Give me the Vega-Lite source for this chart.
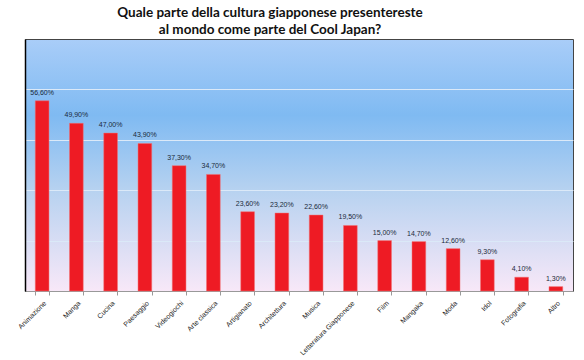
{
  "$schema": "https://vega.github.io/schema/vega-lite/v6.json",
  "autosize": {"type": "none"},
  "width": 548,
  "height": 252,
  "padding": {"left": 25, "top": 39, "right": 11, "bottom": 69},
  "background": "white",
  "title": {
    "text": ["Quale parte della cultura giapponese presentereste", "al mondo come parte del Cool Japan?"],
    "font": "Lato",
    "fontSize": 13.5,
    "fontWeight": "bold",
    "lineHeight": 17,
    "color": "#111111",
    "anchor": "middle",
    "dx": -29,
    "offset": 3
  },
  "view": {
    "fill": {
      "gradient": "linear",
      "x1": 0, "y1": 0, "x2": 0, "y2": 1,
      "stops": [
        {"offset": 0, "color": "#a9cdf8"},
        {"offset": 0.3, "color": "#7fbaf2"},
        {"offset": 0.6, "color": "#b7d2f0"},
        {"offset": 1, "color": "#f8e8f8"}
      ]
    },
    "stroke": "#444444",
    "strokeWidth": 1
  },
  "data": {
    "values": [
      {"cat": "Animazione", "v": 56.6, "lab": "56,60%"},
      {"cat": "Manga", "v": 49.9, "lab": "49,90%"},
      {"cat": "Cucina", "v": 47.0, "lab": "47,00%"},
      {"cat": "Paesaggio", "v": 43.9, "lab": "43,90%"},
      {"cat": "Videogiochi", "v": 37.3, "lab": "37,30%"},
      {"cat": "Arte classica", "v": 34.7, "lab": "34,70%"},
      {"cat": "Artigianato", "v": 23.6, "lab": "23,60%"},
      {"cat": "Architettura", "v": 23.2, "lab": "23,20%"},
      {"cat": "Musica", "v": 22.6, "lab": "22,60%"},
      {"cat": "Letteratura Giapponese", "v": 19.5, "lab": "19,50%"},
      {"cat": "Film", "v": 15.0, "lab": "15,00%"},
      {"cat": "Mangaka", "v": 14.7, "lab": "14,70%"},
      {"cat": "Moda", "v": 12.6, "lab": "12,60%"},
      {"cat": "Idol", "v": 9.3, "lab": "9,30%"},
      {"cat": "Fotografia", "v": 4.1, "lab": "4,10%"},
      {"cat": "Altro", "v": 1.3, "lab": "1,30%"}
    ]
  },
  "encoding": {
    "x": {
      "field": "cat", "type": "nominal", "sort": null,
      "scale": {"paddingInner": 0.6, "paddingOuter": 0.3},
      "axis": {
        "title": null,
        "labelAngle": -45,
        "labelFont": "Liberation Sans",
        "labelFontSize": 7,
        "labelColor": "#222222",
        "labelPadding": 4,
        "domainColor": "#999999",
        "tickColor": "#999999",
        "tickBand": "extent",
        "tickSize": 4
      }
    },
    "y": {
      "field": "v", "type": "quantitative",
      "scale": {"domain": [0, 75], "nice": false},
      "axis": {
        "title": null,
        "labels": false,
        "ticks": false,
        "values": [15, 30, 45, 60],
        "gridColor": "#dbe9f8",
        "gridWidth": 1,
        "domainColor": "#000000",
        "domainWidth": 1.5
      }
    }
  },
  "layer": [
    {
      "mark": {"type": "bar", "color": "#ee1b24", "stroke": "#f07070", "strokeWidth": 0.5}
    },
    {
      "mark": {"type": "text", "dy": -8, "font": "Liberation Sans", "fontSize": 7, "color": "#1a2a3a"},
      "encoding": {"text": {"field": "lab"}}
    }
  ]
}
